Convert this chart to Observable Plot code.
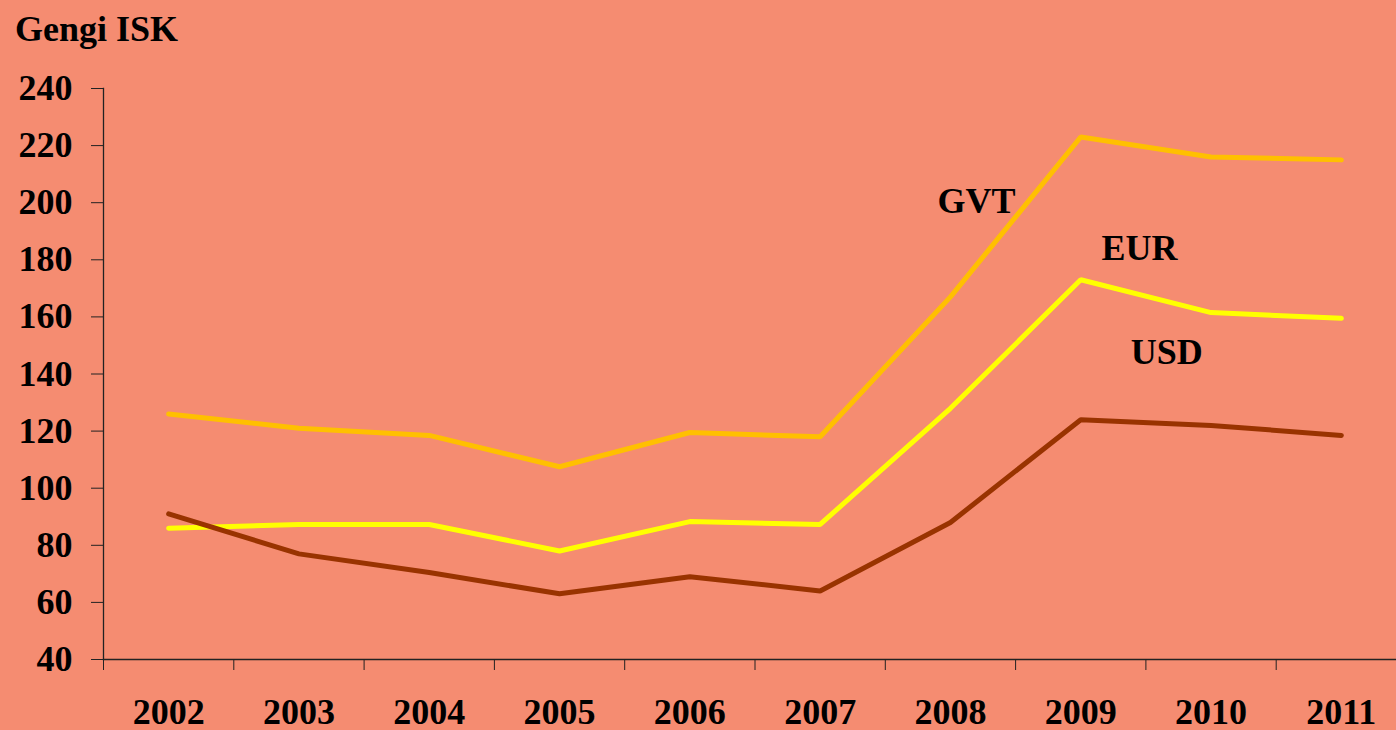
<!DOCTYPE html>
<html><head><meta charset="utf-8">
<script src="https://cdn.jsdelivr.net/npm/d3@7"></script>
<script src="https://cdn.jsdelivr.net/npm/@observablehq/plot@0.6"></script>
<style>
html,body{margin:0;padding:0;background:#F58C71;overflow:hidden;}
#title{box-sizing:border-box;height:60px;padding-top:11px;padding-left:15px;font-family:"Liberation Serif","Times New Roman",serif;font-weight:bold;font-size:36px;line-height:1;color:#000;}
</style></head><body>
<div id="title">Gengi ISK</div>
<div id="chart"></div>
<script>
const years = [2002, 2003, 2004, 2005, 2006, 2007, 2008, 2009, 2010, 2011];
const gvt = [126, 121, 118.5, 107.5, 119.5, 118, 167, 223, 216, 215];
const eur = [86, 87.3, 87.3, 78, 88.3, 87.3, 128, 173, 161.5, 159.5];
const usd = [91, 77, 70.5, 63, 69, 64, 88, 124, 122, 118.5];
const seriesNames = ["GVT", "EUR", "USD"];
const seriesColors = ["#FFC000", "#FFFF00", "#993300"];
const yTicks = [40, 60, 80, 100, 120, 140, 160, 180, 200, 220, 240];
const labelNames = ["GVT", "EUR", "USD"];
const labelYears = [2008.2, 2009.45, 2009.66];
const labelValues = [200.5, 184, 147.5];

const seriesValues = [gvt, eur, usd];
const rows = seriesNames.flatMap((s, i) => years.map((yr, j) => ({series: s, year: yr, value: seriesValues[i][j]})));
const labels = labelNames.map((t, i) => ({text: t, year: labelYears[i], value: labelValues[i]}));
const bounds = years.map(y => y - 0.5).concat([years[years.length - 1] + 0.5]);

const chart = Plot.plot({
  width: 1396,
  height: 670,
  marginTop: 28,
  marginBottom: 71,
  marginLeft: 103,
  marginRight: 0,
  style: {background: "#F58C71", fontFamily: "'Liberation Serif','Times New Roman',serif", fontWeight: "bold", fontSize: "36px", color: "#000", overflow: "visible"},
  x: {type: "linear", domain: [years[0] - 0.5, years[years.length - 1] + 0.5], range: [103, 1406]},
  y: {domain: [40, 240]},
  color: {domain: seriesNames, range: seriesColors},
  marks: [
    Plot.frame({anchor: "left", stroke: "#222", strokeWidth: 1.3}),
    Plot.frame({anchor: "bottom", stroke: "#222", strokeWidth: 1.3}),
    Plot.axisY(yTicks, {tickSize: 12, tickPadding: 19, stroke: "#222", fontSize: 36, fontWeight: "bold", label: null}),
    Plot.axisX(bounds, {tickSize: 11, tickFormat: () => "", stroke: "#222", label: null}),
    Plot.axisX(years, {tickSize: 0, tickPadding: 39, tickFormat: d => String(d), fontSize: 36, fontWeight: "bold", label: null}),
    Plot.line(rows, {x: "year", y: "value", z: "series", stroke: "series", strokeWidth: 5, strokeLinecap: "round", strokeLinejoin: "miter"}),
    Plot.text(labels, {x: "year", y: "value", text: "text", fontSize: 36, fontWeight: "bold", fill: "#000"})
  ]
});
document.getElementById("chart").appendChild(chart);
</script>
</body></html>
